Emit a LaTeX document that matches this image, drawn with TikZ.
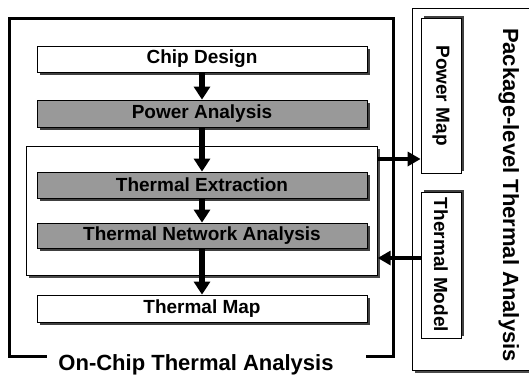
\documentclass[tikz,border=0pt]{standalone}
\usepackage{fontspec}
\setmainfont{Liberation Sans}
\usetikzlibrary{arrows.meta,shadows}
\tikzset{
  box/.style={draw=black, line width=0.8pt, fill=white, minimum width=330pt, inner sep=0pt,
    font=\fontsize{19}{19}\selectfont\bfseries,
    drop shadow={shadow xshift=2.5pt, shadow yshift=-2.5pt, fill=black!75, opacity=1}},
  graybox/.style={box, fill=black!40},
  frame/.style={draw=black, line width=0.7pt, fill=white,
    drop shadow={shadow xshift=2.5pt, shadow yshift=-2.5pt, fill=black!70, opacity=1}},
  vbox/.style={draw=black, line width=0.8pt, fill=white, inner sep=0pt, rotate=-90,
    font=\fontsize{19}{19}\selectfont\bfseries,
    drop shadow={shadow xshift=2.5pt, shadow yshift=2.5pt, fill=black!75, opacity=1}},
  flow/.style={line width=5.5pt, -{Triangle[length=13pt,width=16pt]}},
  side/.style={line width=4.5pt, -{Triangle[length=13pt,width=14pt]}},
  outer/.style={line width=3pt, line cap=rect},
  title/.style={font=\fontsize{22}{22}\selectfont\bfseries, inner sep=0pt}
}
\begin{document}
\begin{tikzpicture}[x=1pt,y=-1pt]
\useasboundingbox (0,0) rectangle (529,375);
% package-level box
\node[frame, minimum width=125pt, minimum height=362pt, inner sep=0pt, anchor=north west] (pkg) at (412,8) {};
% inner box
\node[frame, minimum width=351pt, minimum height=129pt, inner sep=0pt, anchor=north west] (inner) at (26,146) {};
% outer on-chip frame
\coordinate (ol) at (45,356);
\coordinate (or) at (367,356);
\draw[outer] (ol) -- (9,356) -- (9,18) -- (393,18) -- (393,356) -- (or);
\node[title, anchor=base] (octitle) at (196,370.5) {On-Chip Thermal Analysis};
% flow boxes
\node[box, minimum height=26pt] (cd) at (202,59) {Chip Design};
\node[graybox, minimum height=27pt] (pa) at (202,113.5) {Power Analysis};
\node[graybox, minimum height=26pt] (te) at (202,185) {Thermal Extraction};
\node[graybox, minimum height=25pt] (tna) at (202,235.5) {Thermal Network Analysis};
\node[box, minimum height=27pt] (tm) at (202,308.5) {Thermal Map};
% vertical arrows
\draw[flow] (cd) -- (pa);
\draw[flow] (pa) -- (te);
\draw[flow] (te) -- (tna);
\draw[flow] (tna) -- (tm);
% package side boxes (rotated: south anchor is the left edge)
\node[vbox, minimum height=40pt, minimum width=155pt] (pm) at (441,95.5) {Power Map};
\node[vbox, minimum height=40pt, minimum width=146pt] (tmod) at (441,265) {Thermal Model};
\node[title, rotate=-90, anchor=base] (pkgtitle) at (503,195) {Package-level Thermal Analysis};
% side arrows
\coordinate (y1) at (0,159);
\coordinate (y2) at (0,258);
\draw[side] (inner.east |- y1) -- (pm.south |- y1);
\draw[side] (tmod.south |- y2) -- (inner.east |- y2);
\end{tikzpicture}
\end{document}
